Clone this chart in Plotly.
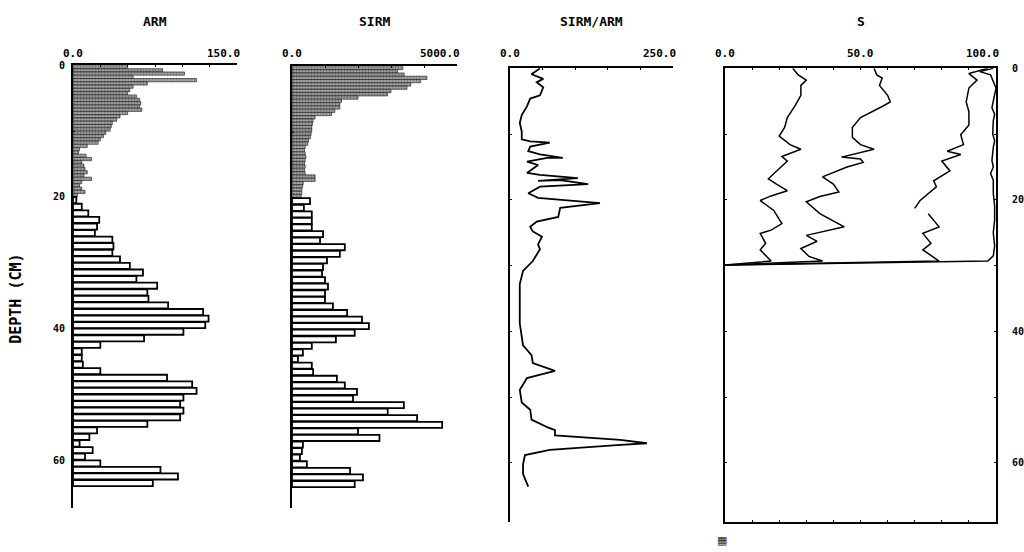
import plotly.graph_objects as go

# ---------------- data ----------------
depth_top = [0.25, 0.75, 1.25, 1.75, 2.25, 2.75, 3.25, 3.75, 4.25, 4.75,
             5.25, 5.75, 6.25, 6.75, 7.25, 7.75, 8.25, 8.75, 9.25, 9.75,
             10.25, 10.75, 11.25, 11.75, 12.25, 12.75, 13.25, 13.75, 14.25, 14.75,
             15.25, 15.75, 16.25, 16.75, 17.25, 17.75, 18.25, 18.75, 19.25, 19.75]
depth_deep = [20.5, 21.5, 22.5, 23.5, 24.5, 25.5, 26.5, 27.5, 28.5, 29.5,
              30.5, 31.5, 32.5, 33.5, 34.5, 35.5, 36.5, 37.5, 38.5, 39.5,
              40.5, 41.5, 42.5, 43.5, 44.5, 45.5, 46.5, 47.5, 48.5, 49.5,
              50.5, 51.5, 52.5, 53.5, 54.5, 55.5, 56.5, 57.5, 58.5, 59.5,
              60.5, 61.5, 62.5, 63.5]

arm_top = [50, 82, 102, 55, 113, 68, 55, 52, 50, 58,
           61, 62, 61, 63, 50, 43, 40, 36, 35, 34,
           30, 28, 25, 23, 13, 6, 5, 12, 17, 8,
           10, 11, 13, 10, 17, 8, 6, 8, 11, 4]
arm_deep = [3, 8, 14, 24, 22, 20, 36, 37, 36, 43,
            52, 64, 58, 77, 68, 69, 87, 119, 124, 121,
            101, 65, 25, 8, 8, 9, 25, 86, 109, 113,
            101, 98, 101, 98, 68, 22, 15, 6, 18, 11,
            25, 80, 96, 73]

sirm_top = [3360, 3200, 3400, 4090, 3900, 3600, 3485, 3000, 2900, 2000,
            1500, 1450, 1450, 1300, 1200, 700, 640, 620, 600, 600,
            580, 560, 500, 480, 400, 380, 400, 420, 400, 380,
            400, 380, 400, 700, 700, 340, 320, 300, 300, 280]
sirm_deep = [545, 360, 600, 600, 600, 940, 850, 1600, 1450, 1060,
             940, 910, 1000, 1090, 1000, 1000, 1240, 1670, 2120, 2330,
             1900, 1330, 600, 330, 180, 600, 640, 1360, 1600, 1970,
             1850, 3390, 2900, 3790, 4550, 2000, 2650, 330, 300, 240,
             450, 1760, 2150, 1900]

ratio_depth = [0, 0.9, 1.6, 2.1, 2.9, 4.1, 4.6, 5.8, 7.1, 8.3,
               9.6, 10.8, 11.1, 11.3, 11.9, 12.6, 13.1, 13.6, 13.6, 14.2,
               14.7, 15.9, 16.2, 16.7, 17.1, 17.0, 17.6, 18.0, 19.0, 19.7,
               20.5, 20.8, 21.2, 22.6, 23.3, 24.1, 24.8, 25.6, 26.8, 27.5,
               29.3, 30.8, 32.8, 35.8, 38.8, 42.1, 43.6, 44.8, 46.0, 47.1,
               48.9, 50.8, 51.9, 53.4, 54.6, 55.0, 55.8, 56.5, 57.0, 57.3,
               58.0, 58.8, 60.2, 61.7, 63.6]
ratio_val = [46, 33, 51, 41, 51, 46, 31, 26, 18, 15,
             18, 18, 31, 61, 31, 28, 46, 81, 57, 26,
             43, 26, 46, 104, 43, 77, 120, 46, 28, 43,
             138, 112, 77, 74, 41, 31, 35, 49, 43, 46,
             35, 20, 15, 15, 15, 20, 33, 35, 69, 26,
             15, 18, 31, 33, 58, 69, 69, 169, 210, 164,
             61, 23, 20, 20, 28]

s_a_depth = [0, 1.0, 1.8, 2.6, 4.1, 5.6, 7.5, 9.0, 10.3, 11.6,
             12.3, 13.4, 14.1, 16.8, 17.6, 18.6, 19.4, 20.1, 21.6, 23.6,
             24.6, 25.1, 26.6, 27.6, 29.3, 29.9]
s_a_val = [25, 27, 30, 28, 28, 26, 23, 22, 20, 24,
           28, 21, 23, 16, 19, 23, 17, 13, 18, 21,
           17, 13, 15, 13, 17, 0]
s_b_depth = [0, 1.0, 1.5, 2.6, 4.1, 5.1, 5.8, 6.6, 7.5, 9.0,
             10.5, 11.6, 12.3, 13.5, 13.8, 14.3, 15.0, 16.5, 17.6, 18.8,
             19.5, 20.3, 22.1, 24.1, 25.4, 26.3, 27.4, 28.6, 29.3, 29.9]
s_b_val = [55, 56, 58, 57, 60, 61, 58, 54, 50, 47,
           47, 50, 55, 43, 50, 51, 45, 36, 40, 42,
           35, 30, 35, 44, 30, 34, 28, 31, 36, 0]
s_c_depth = [0, 0.8, 1.8, 3.0, 5.1, 6.6, 8.6, 10.1, 11.6, 12.6,
             13.1, 14.1, 15.6, 17.1, 18.0, 19.1, 20.1, 21.3, None, 22.1,
             24.1, 25.1, 26.6, 27.6, 29.3, 29.9]
s_c_val = [97, 90, 93, 90, 89, 90, 90, 87, 88, 82,
           87, 80, 83, 77, 78, 75, 72, 70, None, 75,
           79, 73, 76, 73, 79, 0]
s_d_depth = [0, 0.5, 1.0, 2.0, 3.0, 5.0, 6.0, 7.0, 8.0, 10.0,
             11.0, 12.0, 14.0, 15.0, 16.0, 17.0, 19.0, 21.0, 23.0, 25.0,
             27.0, 28.5, 29.3, 29.9]
s_d_val = [99, 94, 98, 99, 100, 99, 98.5, 99.5, 99, 98.8,
           99.5, 99, 98.5, 99, 98, 99, 99, 99.5, 99.5, 99,
           99.5, 99, 97, 0]

panel_titles = ["ARM", "SIRM", "SIRM/ARM", "S"]
arm_tick_vals, arm_tick_text = [0, 150], ["0.0", "150.0"]
sirm_tick_vals, sirm_tick_text = [0, 5000], ["0.0", "5000.0"]
ratio_tick_vals, ratio_tick_text = [0, 250], ["0.0", "250.0"]
s_tick_vals, s_tick_text = [0, 50, 100], ["0.0", "50.0", "100.0"]
depth_tick_vals = [0, 10, 20, 30, 40, 50, 60]
depth_tick_text = ["0", "", "20", "", "40", "", "60"]

# ---------------- style ----------------
MONO = "DejaVu Sans Mono"
W, H = 1024, 552


def px_x(p):
    return p / W


def px_y(p):
    return 1 - p / H


dom_x = [[px_x(73), px_x(237)], [px_x(292), px_x(457)],
         [px_x(510), px_x(673)], [px_x(725), px_x(996)]]
dom_y = [[px_y(508), px_y(60)], [px_y(508), px_y(61)],
         [px_y(522), px_y(63)], [px_y(522), px_y(63)]]
yr = [(508 - 60) / 6.65, (508 - 61) / 6.65, (522 - 63) / 6.65, (522 - 63) / 6.65]

fig = go.Figure()

top_marker = dict(color="#8e8e8e", line=dict(color="#1a1a1a", width=0.6),
                  pattern=dict(shape=".", fgcolor="#222222", bgcolor="#ababab",
                               size=3, solidity=0.4))
deep_marker = dict(color="white", line=dict(color="black", width=1.8))

# ARM
fig.add_trace(go.Bar(x=arm_top, y=depth_top, orientation="h", width=0.5,
                     marker=top_marker, xaxis="x", yaxis="y"))
fig.add_trace(go.Bar(x=arm_deep, y=depth_deep, orientation="h", width=0.92,
                     marker=deep_marker, xaxis="x", yaxis="y"))
# SIRM
fig.add_trace(go.Bar(x=sirm_top, y=depth_top, orientation="h", width=0.5,
                     marker=top_marker, xaxis="x2", yaxis="y2"))
fig.add_trace(go.Bar(x=sirm_deep, y=depth_deep, orientation="h", width=0.92,
                     marker=deep_marker, xaxis="x2", yaxis="y2"))
# SIRM/ARM
fig.add_trace(go.Scatter(x=ratio_val, y=ratio_depth, mode="lines",
                         line=dict(color="black", width=1.8),
                         xaxis="x3", yaxis="y3"))
# S
for xs, ys in [(s_a_val, s_a_depth), (s_b_val, s_b_depth),
               (s_c_val, s_c_depth), (s_d_val, s_d_depth)]:
    fig.add_trace(go.Scatter(x=xs, y=ys, mode="lines",
                             line=dict(color="black", width=1.5),
                             connectgaps=False, xaxis="x4", yaxis="y4"))

axis_common = dict(showline=True, linecolor="black", linewidth=2,
                   showgrid=False, zeroline=False, ticks="inside",
                   ticklen=2, tickcolor="black", tickwidth=1)

x_ranges = [[0, 150], [0, 5000], [0, 250], [0, 100]]
x_dticks = [25, 1000, 50, 10]
layout = dict(width=W, height=H, margin=dict(l=0, r=0, t=0, b=0),
              paper_bgcolor="white", plot_bgcolor="white",
              showlegend=False, barmode="overlay")

for i in range(4):
    xn = "xaxis" if i == 0 else f"xaxis{i + 1}"
    yn = "yaxis" if i == 0 else f"yaxis{i + 1}"
    xa = "y" if i == 0 else f"y{i + 1}"
    ya = "x" if i == 0 else f"x{i + 1}"
    layout[xn] = dict(axis_common, domain=dom_x[i], range=x_ranges[i],
                      side="top", anchor=xa, dtick=x_dticks[i],
                      showticklabels=False, fixedrange=True)
    ydict = dict(axis_common, domain=dom_y[i], range=[yr[i], 0],
                 anchor=ya, tickvals=depth_tick_vals, ticktext=depth_tick_text,
                 showticklabels=False, fixedrange=True)
    if i == 0:
        ydict.update(showticklabels=True, ticklabelstandoff=4,
                     tickfont=dict(family=MONO, size=10, color="black", weight="bold"))
    if i == 3:
        ydict.update(side="right", mirror="ticks", showticklabels=True,
                     ticklabelstandoff=12,
                     tickfont=dict(family=MONO, size=10, color="black", weight="bold"))
        layout[xn].update(mirror="ticks")
    layout[yn] = ydict

annotations = []
title_font = dict(family=MONO, size=13, color="black", weight="bold")
tick_font = dict(family=MONO, size=11, color="black", weight="bold")
for i, t in enumerate(panel_titles):
    annotations.append(dict(text=t, x=(dom_x[i][0] + dom_x[i][1]) / 2, y=px_y(16),
                            xref="paper", yref="paper", showarrow=False,
                            xanchor="center", yanchor="middle", font=title_font))

tick_sets = [(arm_tick_vals, arm_tick_text, "x"), (sirm_tick_vals, sirm_tick_text, "x2"),
             (ratio_tick_vals, ratio_tick_text, "x3"), (s_tick_vals, s_tick_text, "x4")]
for vals, texts, xr in tick_sets:
    for j, (v, t) in enumerate(zip(vals, texts)):
        last = j == len(vals) - 1
        annotations.append(dict(text=t, x=v, y=px_y(48), xref=xr, yref="paper",
                                showarrow=False,
                                xanchor="right" if last else "center",
                                xshift=5 if last else 0,
                                yanchor="middle", font=tick_font))

annotations.append(dict(text="DEPTH (CM)", x=px_x(16), y=px_y(296), xref="paper",
                        yref="paper", showarrow=False, textangle=-90,
                        xanchor="center", yanchor="middle",
                        font=dict(family=MONO, size=15, color="black", weight="bold")))
annotations.append(dict(text="▦", x=px_x(722), y=px_y(540), xref="paper", yref="paper",
                        showarrow=False, xanchor="center", yanchor="middle",
                        font=dict(family="DejaVu Sans", size=11, color="#222")))
layout["annotations"] = annotations

fig.update_layout(layout)
fig.write_html("out.html")
